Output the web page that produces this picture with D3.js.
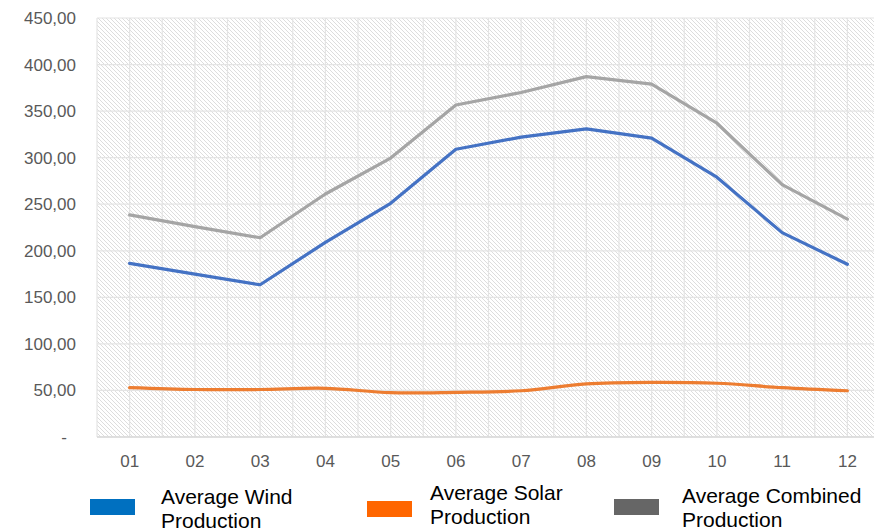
<!DOCTYPE html>
<html>
<head>
<meta charset="utf-8">
<script src="https://cdn.jsdelivr.net/npm/d3@7"></script>
<style>
body { margin: 0; background: #fff; }
svg { display: block; font-family: "Liberation Sans", Arial, sans-serif; }
</style>
</head>
<body>
<div id="chart"></div>
<script>
// datos
var months = ["01", "02", "03", "04", "05", "06", "07", "08", "09", "10", "11", "12"];
var wind = [186.5, 175, 163.5, 209, 251, 309, 322, 331, 321, 279, 219.5, 185.5];
var solar = [53, 51, 51, 52.3, 47.6, 48, 49.7, 57, 58.7, 57.7, 53, 49.7];
var combined = [238.5, 226, 214, 261, 299.6, 356.6, 370, 387, 379, 337, 271, 234];
var yTicks = [0, 50, 100, 150, 200, 250, 300, 350, 400, 450];
var seriesNames = ["Average Wind", "Average Solar", "Average Combined"];

var svg_w = 874, svg_h = 530;
var p_left = 97, p_right = 880, p_top = 18, p_bottom = 437;

var svg = d3.select("#chart").append("svg")
	.attr("width", svg_w)
	.attr("height", svg_h);

// patron rayado del fondo
var defs = svg.append("defs");
var pat = defs.append("pattern")
	.attr("id", "hatch")
	.attr("patternUnits", "userSpaceOnUse")
	.attr("width", 4)
	.attr("height", 4);
pat.append("rect").attr("width", 4).attr("height", 4).attr("fill", "#fff");
pat.append("path")
	.attr("d", "M0,0 L4,4 M-1,3 L1,5 M3,-1 L5,1")
	.attr("stroke", "#d9d9d9")
	.attr("stroke-width", 0.9);

// escalas
var x = d3.scaleBand().domain(months).range([p_left, p_right]);
var y = d3.scaleLinear().domain([0, 450]).range([p_bottom, p_top]);
var cx = function(m) { return x(m) + x.bandwidth() / 2; };

svg.append("rect")
	.attr("x", p_left).attr("y", p_top)
	.attr("width", p_right - p_left).attr("height", p_bottom - p_top)
	.attr("fill", "url(#hatch)");

// rejilla
var grid = svg.append("g").attr("stroke", "#e4e4e4").attr("stroke-width", 1.2);
var vlines = [];
months.forEach(function(m) { vlines.push(x(m)); vlines.push(cx(m)); });
grid.selectAll("line.v").data(vlines).enter().append("line")
	.attr("x1", function(d) { return d; }).attr("x2", function(d) { return d; })
	.attr("y1", p_top).attr("y2", p_bottom);
grid.selectAll("line.h").data(yTicks).enter().append("line")
	.attr("x1", p_left).attr("x2", p_right)
	.attr("y1", function(d) { return y(d); }).attr("y2", function(d) { return y(d); });

svg.append("line")
	.attr("x1", p_left).attr("x2", p_right)
	.attr("y1", p_bottom).attr("y2", p_bottom)
	.attr("stroke", "#d9d9d9").attr("stroke-width", 1.5);

// ejes
var yAxis = d3.axisLeft(y)
	.tickValues(yTicks)
	.tickSize(0)
	.tickPadding(0)
	.tickFormat(function(d) { return d === 0 ? "-" : d3.format(".2f")(d).replace(".", ","); });
var gy = svg.append("g").attr("transform", "translate(76,0)").call(yAxis);
gy.select(".domain").remove();
gy.selectAll("text")
	.attr("font-size", 17)
	.attr("font-family", "Liberation Sans, Arial, sans-serif")
	.attr("fill", "#595959")
	.attr("dx", function(d) { return d === 0 ? -9 : 0; });

var xAxis = d3.axisBottom(x).tickSize(0).tickPadding(0);
var gx = svg.append("g").attr("transform", "translate(0,455)").call(xAxis);
gx.select(".domain").remove();
gx.selectAll("text")
	.attr("font-size", 17)
	.attr("font-family", "Liberation Sans, Arial, sans-serif")
	.attr("fill", "#595959");

// lineas
var lineStraight = d3.line()
	.x(function(d, i) { return cx(months[i]); })
	.y(function(d) { return y(d); });
var lineSmooth = d3.line()
	.x(function(d, i) { return cx(months[i]); })
	.y(function(d) { return y(d); })
	.curve(d3.curveCatmullRom.alpha(0.5));

var lines = [
	{ data: solar, color: "#ED7D31", gen: lineSmooth },
	{ data: wind, color: "#4472C4", gen: lineStraight },
	{ data: combined, color: "#A5A5A5", gen: lineStraight }
];
lines.forEach(function(s) {
	svg.append("path")
		.attr("d", s.gen(s.data))
		.attr("fill", "none")
		.attr("stroke", s.color)
		.attr("stroke-width", 3.2)
		.attr("stroke-linejoin", "round")
		.attr("stroke-linecap", "round");
});

// leyenda
var legendItems = [
	{ name: seriesNames[0], color: "#0070C0", sx: 90, sy: 499, tx: 161, ty: 504 },
	{ name: seriesNames[1], color: "#FF6600", sx: 367, sy: 501, tx: 430, ty: 500 },
	{ name: seriesNames[2], color: "#666666", sx: 614, sy: 499, tx: 682, ty: 503 }
];
legendItems.forEach(function(it) {
	svg.append("rect")
		.attr("x", it.sx).attr("y", it.sy)
		.attr("width", 45).attr("height", 16)
		.attr("fill", it.color);
	var t = svg.append("text")
		.attr("x", it.tx).attr("y", it.ty)
		.attr("font-size", 21)
		.attr("fill", "#000");
	t.append("tspan").attr("x", it.tx).text(it.name);
	t.append("tspan").attr("x", it.tx).attr("dy", 24).text("Production");
});
</script>
</body>
</html>
